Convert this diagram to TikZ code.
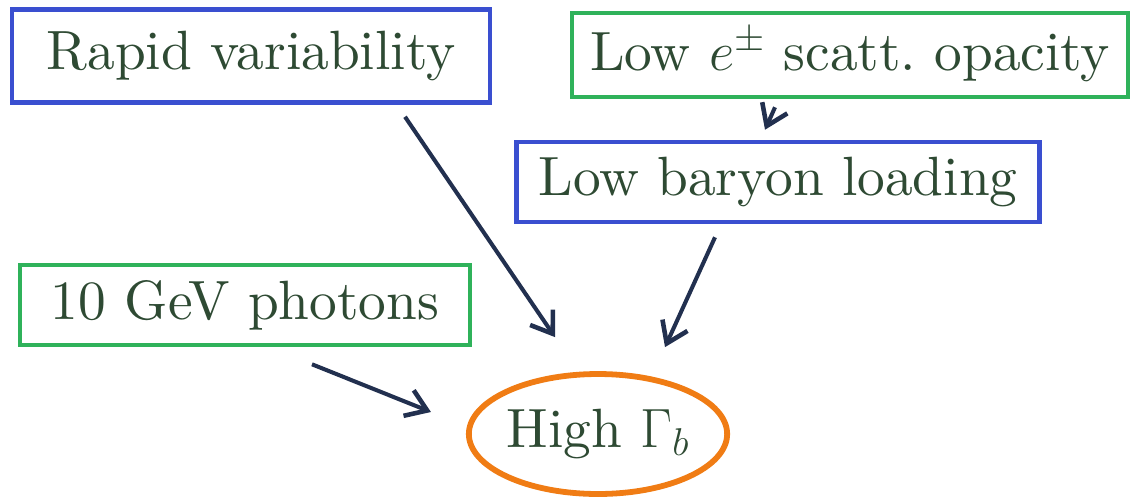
\RequirePackage{fix-cm}
\documentclass[tikz,border=0pt]{standalone}
\usepackage{fontspec}
\setmainfont{lmroman10-regular.otf}
\usepackage{tikz}
\usetikzlibrary{positioning,calc,shapes.geometric,arrows.meta}

\definecolor{inkgreen}{HTML}{2E4A33}
\definecolor{penblue}{HTML}{3A4FD0}
\definecolor{pengreen}{HTML}{2FB25A}
\definecolor{penorange}{HTML}{F07C14}
\definecolor{pennavy}{HTML}{22304F}

\begin{document}
\begin{tikzpicture}[
  x=0.02cm, y=-0.02cm,
  font=\fontsize{31.5}{36}\selectfont, text=inkgreen,
  box/.style={draw, line width=2.6pt, inner sep=0pt, minimum height=1.6cm},
  bluebox/.style={box, draw=penblue},
  greenbox/.style={box, draw=pengreen},
  goal/.style={ellipse, draw=penorange, line width=3.3pt, inner sep=0pt,
               minimum width=4.94cm, minimum height=2.4cm},
  arr/.style={-{Straight Barb[length=4mm,width=5.5mm,line width=2.6pt]},
              line width=2.3pt, draw=pennavy},
]
\useasboundingbox (0,0) rectangle (1131,497);

% ---------- causes ----------
\node[bluebox, minimum width=9.56cm, minimum height=1.86cm] (rapid) at (251,56) {Rapid variability};
\node[greenbox, minimum width=11.12cm, minimum height=1.68cm] (opacity) at (850,55) {Low $e^{\pm}$ scatt.\ opacity};
\node[bluebox, minimum width=10.46cm] (baryon) at (778,182) {Low baryon loading};
\node[greenbox, minimum width=9.0cm] (photons) at (245,305) {10 GeV photons};

% ---------- result ----------
\node[goal] (high) at (598,434) {High $\Gamma_b$};

% ---------- arrows ----------
\draw[arr] ($(rapid.south)+(154,12)$) -- ($(high.north)+(-43,-34)$);
\draw[arr] ($(opacity.south)+(-75,8)$) -- ($(baryon.north)+(-13,-10)$);
\draw[arr] ($(baryon.south)+(-63,13)$) -- ($(high.north)+(67,-24)$);
\draw[arr] ($(photons.south)+(67,17)$) -- ($(high.west)+(-35,-22)$);

\end{tikzpicture}
\end{document}
